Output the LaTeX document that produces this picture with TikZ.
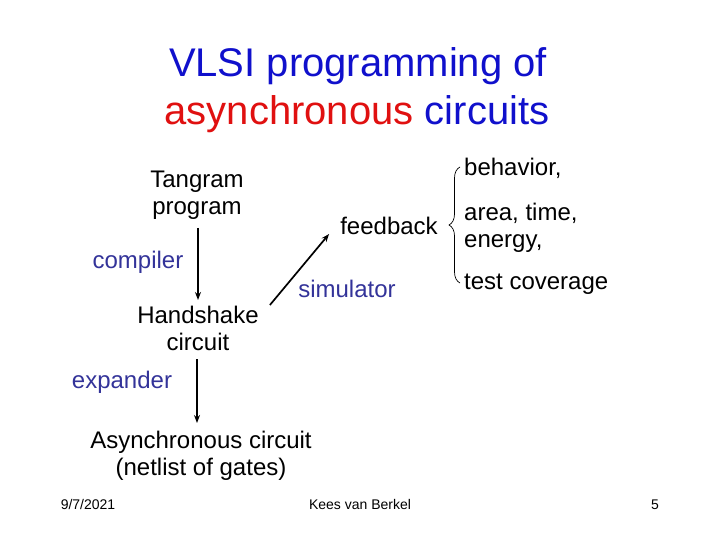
\documentclass[tikz,border=0pt]{standalone}
\usepackage{fontspec}
\setmainfont{Liberation Sans}
\usetikzlibrary{arrows.meta,decorations.pathreplacing}
\definecolor{tblue}{RGB}{16,16,204}
\definecolor{tred}{RGB}{224,16,16}
\definecolor{lblue}{RGB}{51,51,153}
\tikzset{
  ttl/.style={inner sep=0pt,anchor=base,font=\fontsize{40}{46}\selectfont,text=tblue},
  body/.style={inner sep=0pt,font=\fontsize{24}{27}\selectfont,text=black},
  lbl/.style={inner sep=0pt,anchor=base,font=\fontsize{24}{27}\selectfont,text=lblue},
  foot/.style={inner sep=0pt,anchor=base,font=\fontsize{14}{16}\selectfont,text=black},
  arr/.style={line width=1.7pt,-{Stealth[length=8pt,width=6pt]}},
}
\begin{document}
\begin{tikzpicture}[x=1pt,y=-1pt]
\useasboundingbox (0,0) rectangle (720,540);
% title
\node[ttl] (t1) at (358,77) {VLSI programming of};
\node[ttl] (t2) at (357,125) {\textcolor{tred}{asynchronous} circuits};
% left column
\node[body,anchor=north,align=center] (tan) at (197,171) {Tangram\\program};
\node[body,anchor=north,align=center] (hs) at (198,306) {Handshake\\circuit};
\node[body,anchor=north,align=center] (ac) at (201,431) {Asynchronous circuit\\(netlist of gates)};
\node[lbl] (comp) at (138,268) {compiler};
\node[lbl] (exp) at (122,388) {expander};
\node[lbl] (sim) at (347,297) {simulator};
\node[body,anchor=base] (fb) at (389,235) {feedback};
% arrows
\coordinate (a1s) at ([yshift=-8pt]tan.south -| 198,0);
\coordinate (a1e) at ([yshift=6pt]hs.north -| 198,0);
\draw[arr] (a1s) -- (a1e);
\coordinate (a2s) at ([xshift=11pt,yshift=1pt]hs.north east);
\draw[arr] (a2s) -- ([xshift=-11pt,yshift=1pt]fb.base west);
\coordinate (a3s) at ([yshift=-8pt]hs.south -| 197,0);
\coordinate (a3e) at ([yshift=8pt]ac.north -| 197,0);
\draw[arr] (a3s) -- (a3e);
% brace
\coordinate (bb) at (460,283);
\coordinate (bt) at (460,167);
\draw[line width=0.7pt,decorate,decoration={brace,amplitude=11pt}] (bb) -- (bt);
% right column
\node[body,anchor=base west] (beh) at (464,176) {behavior,};
\node[body,anchor=north west,align=left] (ate) at (464,203) {area, time,\\energy,};
\node[body,anchor=base west] (tc) at (464,289) {test coverage};
% footer
\node[foot] (date) at (88,509) {9/7/2021};
\node[foot] (auth) at (360,509) {Kees van Berkel};
\node[foot] (pg) at (655,509) {5};
\end{tikzpicture}
\end{document}
